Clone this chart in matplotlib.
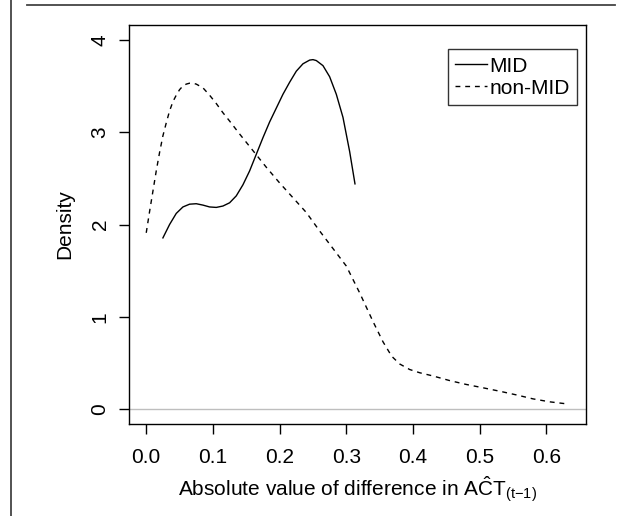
import matplotlib
matplotlib.use("Agg")
import matplotlib.pyplot as plt
from matplotlib.lines import Line2D

plt.rcParams['font.family'] = ['Liberation Sans', 'DejaVu Sans']
plt.rcParams['mathtext.fontset'] = 'custom'
plt.rcParams['mathtext.rm'] = 'Liberation Sans'
plt.rcParams['mathtext.it'] = 'Liberation Sans'

# density estimates
mid_x = [0.025, 0.035, 0.045, 0.055, 0.065, 0.075, 0.085, 0.095, 0.105, 0.115,
         0.125, 0.135, 0.145, 0.155, 0.165, 0.175, 0.185, 0.195, 0.205, 0.215,
         0.225, 0.235, 0.245, 0.250, 0.255, 0.265, 0.275, 0.285, 0.295, 0.305, 0.313]
mid_y = [1.855, 2.00, 2.12, 2.19, 2.22, 2.225, 2.21, 2.19, 2.185, 2.20,
         2.235, 2.31, 2.43, 2.58, 2.76, 2.94, 3.11, 3.26, 3.41, 3.54,
         3.66, 3.74, 3.78, 3.785, 3.775, 3.72, 3.60, 3.41, 3.16, 2.79, 2.44]

nonmid_x = [0.000, 0.005, 0.010, 0.015, 0.020, 0.025, 0.030, 0.035, 0.040, 0.045,
            0.050, 0.055, 0.060, 0.065, 0.070, 0.075, 0.085, 0.095, 0.105, 0.115,
            0.125, 0.140, 0.160, 0.180, 0.200, 0.220, 0.240, 0.260, 0.280, 0.300,
            0.320, 0.340, 0.355, 0.368, 0.380, 0.395, 0.410, 0.430, 0.455, 0.480,
            0.505, 0.530, 0.555, 0.580, 0.605, 0.634]
nonmid_y = [1.91, 2.14, 2.36, 2.58, 2.78, 2.96, 3.10, 3.23, 3.33, 3.40,
            3.46, 3.50, 3.52, 3.53, 3.53, 3.52, 3.48, 3.40, 3.31, 3.21,
            3.12, 2.98, 2.80, 2.62, 2.45, 2.29, 2.13, 1.93, 1.74, 1.55,
            1.26, 0.95, 0.73, 0.574, 0.49, 0.43, 0.395, 0.36, 0.31, 0.268,
            0.232, 0.195, 0.155, 0.112, 0.08, 0.055]

xticks = [0.0, 0.1, 0.2, 0.3, 0.4, 0.5, 0.6]
yticks = [0, 1, 2, 3, 4]

fs = 15
fig = plt.figure(figsize=(6.28, 5.16), dpi=100)
ax = fig.add_axes([129.3 / 628, 1 - 424 / 516, (586 - 129.3) / 628, (424 - 25) / 516])

ax.axhline(0, color='#bebebe', lw=1.0, zorder=1)
ax.plot(mid_x, mid_y, color='black', lw=1.0, label='MID')
ax.plot(nonmid_x, nonmid_y, color='black', lw=1.0, linestyle=(0, (3.5, 3.5)), label='non-MID')

ax.set_xlim(-0.0254, 0.6594)
ax.set_ylim(-0.16, 4.16)
ax.set_xticks(xticks)
ax.set_xticklabels(['%.1f' % v for v in xticks])
ax.set_yticks(yticks)
ax.set_yticklabels([str(v) for v in yticks])
ax.tick_params(axis='both', direction='out', length=7.2, width=1.0, labelsize=fs, color='black')
ax.tick_params(axis='x', pad=10)
ax.tick_params(axis='y', pad=7)
for lab in ax.get_yticklabels():
    lab.set_rotation(90)
    lab.set_va('center')
for sp in ax.spines.values():
    sp.set_linewidth(1.0)
    sp.set_color('black')

ax.set_ylabel('Density', fontsize=fs, labelpad=12)
ax.set_xlabel(r'Absolute value of difference in A$\hat{\mathrm{C}}$T$_{\mathrm{(t{-}1)}}$',
              fontsize=fs, labelpad=6)

leg = ax.legend(loc='upper right', bbox_to_anchor=(0.980, 0.939), borderaxespad=0,
                fontsize=fs, frameon=True, fancybox=False, handlelength=1.5,
                handletextpad=0.12, borderpad=0.35, labelspacing=0.15)
leg.get_frame().set_edgecolor('black')
leg.get_frame().set_linewidth(1.0)

# page rules around the figure
fig.add_artist(Line2D([26.7 / 628, 614.7 / 628], [1 - 5 / 516, 1 - 5 / 516],
                      color='#444444', lw=1.3))
fig.add_artist(Line2D([10.7 / 628, 10.7 / 628], [0, 1], color='#444444', lw=1.3))

fig.savefig('out.png', dpi=100)
